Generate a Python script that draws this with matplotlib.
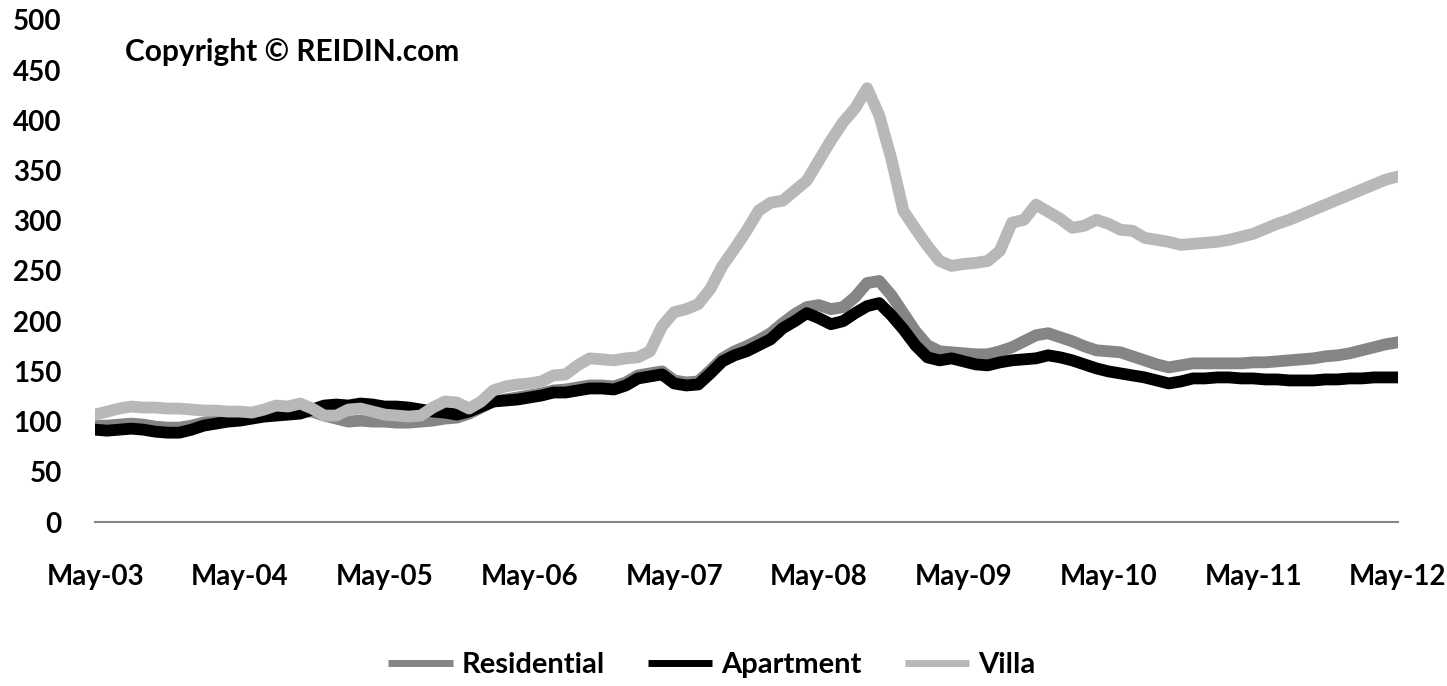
import numpy as np
import matplotlib.pyplot as plt

# REIDIN price index, monthly May-03 .. May-12 (base ~100)
tick_labels = ['May-03', 'May-04', 'May-05', 'May-06', 'May-07',
               'May-08', 'May-09', 'May-10', 'May-11', 'May-12']

residential = [96, 96, 97, 98, 97, 95, 94, 94, 96, 99, 101, 102,
               103, 104, 106, 108, 108, 110, 110, 106, 103, 100, 101, 100,
               100, 99, 99, 100, 101, 103, 104, 108, 114, 120, 122, 124,
               126, 128, 131, 132, 134, 136, 136, 135, 139, 146, 148, 150,
               141, 139, 140, 151, 163, 170, 175, 181, 188, 198, 207, 214,
               216, 212, 214, 224, 238, 240, 226, 208, 190, 176, 170, 169,
               168, 167, 167, 170, 174, 180, 186, 188, 184, 180, 175, 171,
               170, 169, 165, 161, 157, 154, 156, 158, 158, 158, 158, 158,
               159, 159, 160, 161, 162, 163, 165, 166, 168, 171, 174, 177,
               179]

apartment = [92, 91, 92, 93, 92, 90, 89, 89, 92, 96, 98, 100,
             101, 103, 105, 106, 107, 108, 112, 116, 117, 116, 118, 117,
             115, 115, 114, 112, 110, 109, 107, 110, 115, 120, 121, 122,
             124, 126, 129, 129, 131, 133, 133, 132, 136, 143, 145, 147,
             138, 136, 137, 148, 160, 166, 170, 176, 182, 193, 200, 208,
             203, 197, 200, 208, 215, 218, 206, 192, 176, 164, 161, 163,
             160, 157, 156, 159, 161, 162, 163, 166, 164, 161, 157, 153,
             150, 148, 146, 144, 141, 138, 140, 143, 143, 144, 144, 143,
             143, 142, 142, 141, 141, 141, 142, 142, 143, 143, 144, 144,
             144]

villa = [107, 110, 113, 115, 114, 114, 113, 113, 112, 111, 111, 110,
         110, 109, 112, 116, 115, 118, 113, 106, 106, 112, 113, 110,
         107, 106, 105, 106, 114, 120, 119, 113, 120, 131, 135, 137,
         138, 140, 146, 147, 156, 163, 162, 161, 163, 164, 170, 195,
         209, 212, 217, 232, 255, 272, 290, 310, 318, 320, 330, 340,
         360, 380, 398, 412, 432, 405, 362, 310, 292, 275, 260, 255,
         257, 258, 260, 270, 298, 301, 316, 309, 302, 293, 295, 301,
         297, 291, 290, 283, 281, 279, 276, 277, 278, 279, 281, 284,
         287, 292, 297, 301, 306, 311, 316, 321, 326, 331, 336, 341,
         344]

plt.rcParams['font.family'] = ['Lato', 'DejaVu Sans']

fig = plt.figure(figsize=(14.47, 6.86), dpi=100)
ax = fig.add_axes([0.0657, 0.239, 0.9004, 0.732])

months = np.arange(len(villa))
style = dict(linewidth=8.5, solid_capstyle='round', solid_joinstyle='round')
ax.plot(months, residential, color='#858585', label='Residential', **style)
ax.plot(months, apartment, color='#000000', label='Apartment', **style)
ax.plot(months, villa, color='#b8b8b8', label='Villa', **style)

ax.set_xlim(0, 108)
ax.set_ylim(0, 500)
ax.set_yticks(np.arange(0, 501, 50))
ax.set_xticks(np.arange(0, 109, 12))
ax.set_xticklabels(tick_labels)

for side in ['top', 'right', 'left']:
    ax.spines[side].set_visible(False)
ax.spines['bottom'].set_color('#868686')
ax.spines['bottom'].set_linewidth(1.5)
ax.tick_params(axis='both', length=0, labelsize=20, colors='#000000')
ax.tick_params(axis='y', pad=24)
ax.tick_params(axis='x', pad=30)
for lbl in ax.get_xticklabels() + ax.get_yticklabels():
    lbl.set_fontweight('bold')

ax.text(0.023, 0.936, 'Copyright \u00a9 REIDIN.com', transform=ax.transAxes,
        fontsize=21.5, fontweight='bold', va='center', ha='left')

leg = fig.legend(loc='center', bbox_to_anchor=(0.492, 0.03), ncol=3,
                 frameon=False, handlelength=2.2, handletextpad=0.3,
                 columnspacing=1.5, prop={'size': 21, 'weight': 'bold'})
for line in leg.get_lines():
    line.set_linewidth(5)
    line.set_solid_capstyle('butt')

fig.savefig('out.png', dpi=100)
